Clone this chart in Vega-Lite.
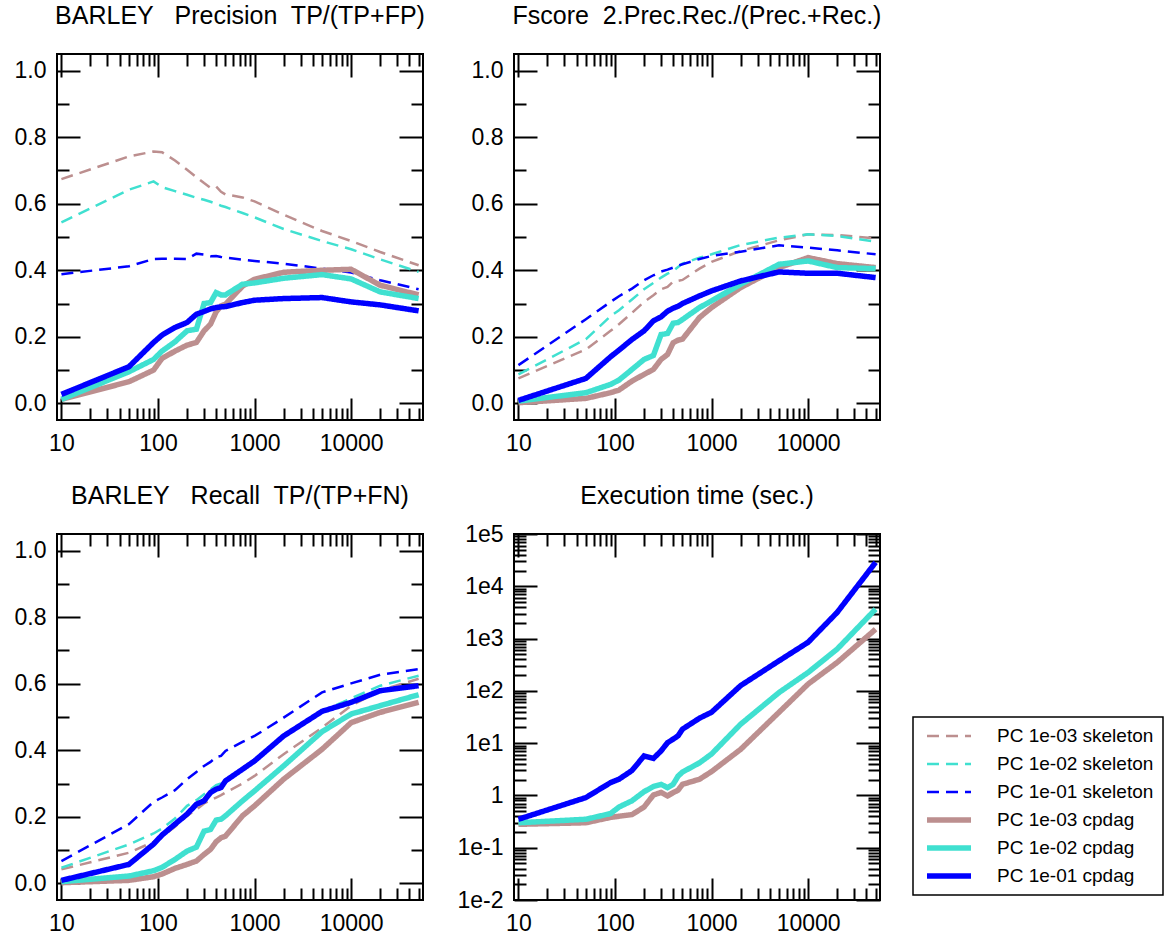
{
  "$schema": "https://vega.github.io/schema/vega-lite/v6.json",
  "background": "white",
  "padding": {"left": 13, "top": 3, "right": 0, "bottom": 0},
  "datasets": {
    "prec": [
      {"n": 10, "PC 1e-03 skeleton": 0.674, "PC 1e-02 skeleton": 0.544, "PC 1e-01 skeleton": 0.388, "PC 1e-03 cpdag": 0.012, "PC 1e-02 cpdag": 0.012, "PC 1e-01 cpdag": 0.027},
      {"n": 50, "PC 1e-03 skeleton": 0.742, "PC 1e-02 skeleton": 0.642, "PC 1e-01 skeleton": 0.412, "PC 1e-03 cpdag": 0.065, "PC 1e-02 cpdag": 0.095, "PC 1e-01 cpdag": 0.110},
      {"n": 90, "PC 1e-03 skeleton": 0.757, "PC 1e-02 skeleton": 0.667, "PC 1e-01 skeleton": 0.434, "PC 1e-03 cpdag": 0.100, "PC 1e-02 cpdag": 0.132, "PC 1e-01 cpdag": 0.183},
      {"n": 110, "PC 1e-03 skeleton": 0.755, "PC 1e-02 skeleton": 0.650, "PC 1e-01 skeleton": 0.435, "PC 1e-03 cpdag": 0.135, "PC 1e-02 cpdag": 0.157, "PC 1e-01 cpdag": 0.205},
      {"n": 150, "PC 1e-03 skeleton": 0.730, "PC 1e-02 skeleton": 0.638, "PC 1e-01 skeleton": 0.435, "PC 1e-03 cpdag": 0.157, "PC 1e-02 cpdag": 0.185, "PC 1e-01 cpdag": 0.228},
      {"n": 200, "PC 1e-03 skeleton": 0.702, "PC 1e-02 skeleton": 0.627, "PC 1e-01 skeleton": 0.434, "PC 1e-03 cpdag": 0.175, "PC 1e-02 cpdag": 0.218, "PC 1e-01 cpdag": 0.243},
      {"n": 250, "PC 1e-03 skeleton": 0.680, "PC 1e-02 skeleton": 0.618, "PC 1e-01 skeleton": 0.450, "PC 1e-03 cpdag": 0.183, "PC 1e-02 cpdag": 0.223, "PC 1e-01 cpdag": 0.268},
      {"n": 300, "PC 1e-03 skeleton": 0.662, "PC 1e-02 skeleton": 0.612, "PC 1e-01 skeleton": 0.447, "PC 1e-03 cpdag": 0.218, "PC 1e-02 cpdag": 0.300, "PC 1e-01 cpdag": 0.276},
      {"n": 350, "PC 1e-03 skeleton": 0.648, "PC 1e-02 skeleton": 0.606, "PC 1e-01 skeleton": 0.442, "PC 1e-03 cpdag": 0.238, "PC 1e-02 cpdag": 0.303, "PC 1e-01 cpdag": 0.284},
      {"n": 400, "PC 1e-03 skeleton": 0.652, "PC 1e-02 skeleton": 0.600, "PC 1e-01 skeleton": 0.443, "PC 1e-03 cpdag": 0.275, "PC 1e-02 cpdag": 0.333, "PC 1e-01 cpdag": 0.288},
      {"n": 450, "PC 1e-03 skeleton": 0.636, "PC 1e-02 skeleton": 0.594, "PC 1e-01 skeleton": 0.440, "PC 1e-03 cpdag": 0.293, "PC 1e-02 cpdag": 0.326, "PC 1e-01 cpdag": 0.290},
      {"n": 500, "PC 1e-03 skeleton": 0.628, "PC 1e-02 skeleton": 0.590, "PC 1e-01 skeleton": 0.438, "PC 1e-03 cpdag": 0.298, "PC 1e-02 cpdag": 0.326, "PC 1e-01 cpdag": 0.291},
      {"n": 750, "PC 1e-03 skeleton": 0.619, "PC 1e-02 skeleton": 0.572, "PC 1e-01 skeleton": 0.432, "PC 1e-03 cpdag": 0.352, "PC 1e-02 cpdag": 0.358, "PC 1e-01 cpdag": 0.303},
      {"n": 1000, "PC 1e-03 skeleton": 0.607, "PC 1e-02 skeleton": 0.559, "PC 1e-01 skeleton": 0.428, "PC 1e-03 cpdag": 0.373, "PC 1e-02 cpdag": 0.362, "PC 1e-01 cpdag": 0.310},
      {"n": 2000, "PC 1e-03 skeleton": 0.567, "PC 1e-02 skeleton": 0.524, "PC 1e-01 skeleton": 0.420, "PC 1e-03 cpdag": 0.394, "PC 1e-02 cpdag": 0.376, "PC 1e-01 cpdag": 0.315},
      {"n": 5000, "PC 1e-03 skeleton": 0.518, "PC 1e-02 skeleton": 0.488, "PC 1e-01 skeleton": 0.405, "PC 1e-03 cpdag": 0.400, "PC 1e-02 cpdag": 0.387, "PC 1e-01 cpdag": 0.318},
      {"n": 10000, "PC 1e-03 skeleton": 0.488, "PC 1e-02 skeleton": 0.463, "PC 1e-01 skeleton": 0.393, "PC 1e-03 cpdag": 0.403, "PC 1e-02 cpdag": 0.374, "PC 1e-01 cpdag": 0.305},
      {"n": 20000, "PC 1e-03 skeleton": 0.455, "PC 1e-02 skeleton": 0.433, "PC 1e-01 skeleton": 0.370, "PC 1e-03 cpdag": 0.355, "PC 1e-02 cpdag": 0.335, "PC 1e-01 cpdag": 0.296},
      {"n": 50000, "PC 1e-03 skeleton": 0.415, "PC 1e-02 skeleton": 0.395, "PC 1e-01 skeleton": 0.343, "PC 1e-03 cpdag": 0.326, "PC 1e-02 cpdag": 0.315, "PC 1e-01 cpdag": 0.278}
    ],
    "fscore": [
      {"n": 10, "PC 1e-03 skeleton": 0.075, "PC 1e-02 skeleton": 0.087, "PC 1e-01 skeleton": 0.115, "PC 1e-03 cpdag": 0.002, "PC 1e-02 cpdag": 0.007, "PC 1e-01 cpdag": 0.009},
      {"n": 50, "PC 1e-03 skeleton": 0.162, "PC 1e-02 skeleton": 0.193, "PC 1e-01 skeleton": 0.253, "PC 1e-03 cpdag": 0.015, "PC 1e-02 cpdag": 0.032, "PC 1e-01 cpdag": 0.075},
      {"n": 90, "PC 1e-03 skeleton": 0.218, "PC 1e-02 skeleton": 0.262, "PC 1e-01 skeleton": 0.305, "PC 1e-03 cpdag": 0.032, "PC 1e-02 cpdag": 0.057, "PC 1e-01 cpdag": 0.140},
      {"n": 110, "PC 1e-03 skeleton": 0.238, "PC 1e-02 skeleton": 0.280, "PC 1e-01 skeleton": 0.322, "PC 1e-03 cpdag": 0.040, "PC 1e-02 cpdag": 0.070, "PC 1e-01 cpdag": 0.160},
      {"n": 150, "PC 1e-03 skeleton": 0.272, "PC 1e-02 skeleton": 0.312, "PC 1e-01 skeleton": 0.345, "PC 1e-03 cpdag": 0.067, "PC 1e-02 cpdag": 0.102, "PC 1e-01 cpdag": 0.192},
      {"n": 200, "PC 1e-03 skeleton": 0.305, "PC 1e-02 skeleton": 0.343, "PC 1e-01 skeleton": 0.370, "PC 1e-03 cpdag": 0.087, "PC 1e-02 cpdag": 0.132, "PC 1e-01 cpdag": 0.218},
      {"n": 250, "PC 1e-03 skeleton": 0.325, "PC 1e-02 skeleton": 0.362, "PC 1e-01 skeleton": 0.385, "PC 1e-03 cpdag": 0.102, "PC 1e-02 cpdag": 0.144, "PC 1e-01 cpdag": 0.248},
      {"n": 300, "PC 1e-03 skeleton": 0.343, "PC 1e-02 skeleton": 0.378, "PC 1e-01 skeleton": 0.396, "PC 1e-03 cpdag": 0.132, "PC 1e-02 cpdag": 0.207, "PC 1e-01 cpdag": 0.260},
      {"n": 350, "PC 1e-03 skeleton": 0.350, "PC 1e-02 skeleton": 0.390, "PC 1e-01 skeleton": 0.402, "PC 1e-03 cpdag": 0.147, "PC 1e-02 cpdag": 0.210, "PC 1e-01 cpdag": 0.277},
      {"n": 400, "PC 1e-03 skeleton": 0.366, "PC 1e-02 skeleton": 0.398, "PC 1e-01 skeleton": 0.408, "PC 1e-03 cpdag": 0.182, "PC 1e-02 cpdag": 0.241, "PC 1e-01 cpdag": 0.286},
      {"n": 450, "PC 1e-03 skeleton": 0.368, "PC 1e-02 skeleton": 0.410, "PC 1e-01 skeleton": 0.414, "PC 1e-03 cpdag": 0.190, "PC 1e-02 cpdag": 0.243, "PC 1e-01 cpdag": 0.292},
      {"n": 500, "PC 1e-03 skeleton": 0.371, "PC 1e-02 skeleton": 0.420, "PC 1e-01 skeleton": 0.418, "PC 1e-03 cpdag": 0.193, "PC 1e-02 cpdag": 0.252, "PC 1e-01 cpdag": 0.300},
      {"n": 750, "PC 1e-03 skeleton": 0.405, "PC 1e-02 skeleton": 0.438, "PC 1e-01 skeleton": 0.434, "PC 1e-03 cpdag": 0.258, "PC 1e-02 cpdag": 0.288, "PC 1e-01 cpdag": 0.323},
      {"n": 1000, "PC 1e-03 skeleton": 0.425, "PC 1e-02 skeleton": 0.448, "PC 1e-01 skeleton": 0.443, "PC 1e-03 cpdag": 0.288, "PC 1e-02 cpdag": 0.308, "PC 1e-01 cpdag": 0.338},
      {"n": 2000, "PC 1e-03 skeleton": 0.458, "PC 1e-02 skeleton": 0.476, "PC 1e-01 skeleton": 0.456, "PC 1e-03 cpdag": 0.348, "PC 1e-02 cpdag": 0.358, "PC 1e-01 cpdag": 0.368},
      {"n": 5000, "PC 1e-03 skeleton": 0.490, "PC 1e-02 skeleton": 0.498, "PC 1e-01 skeleton": 0.475, "PC 1e-03 cpdag": 0.408, "PC 1e-02 cpdag": 0.418, "PC 1e-01 cpdag": 0.395},
      {"n": 10000, "PC 1e-03 skeleton": 0.508, "PC 1e-02 skeleton": 0.508, "PC 1e-01 skeleton": 0.468, "PC 1e-03 cpdag": 0.438, "PC 1e-02 cpdag": 0.428, "PC 1e-01 cpdag": 0.391},
      {"n": 20000, "PC 1e-03 skeleton": 0.506, "PC 1e-02 skeleton": 0.503, "PC 1e-01 skeleton": 0.460, "PC 1e-03 cpdag": 0.420, "PC 1e-02 cpdag": 0.408, "PC 1e-01 cpdag": 0.391},
      {"n": 50000, "PC 1e-03 skeleton": 0.496, "PC 1e-02 skeleton": 0.486, "PC 1e-01 skeleton": 0.448, "PC 1e-03 cpdag": 0.408, "PC 1e-02 cpdag": 0.405, "PC 1e-01 cpdag": 0.378}
    ],
    "recall": [
      {"n": 10, "PC 1e-03 skeleton": 0.042, "PC 1e-02 skeleton": 0.047, "PC 1e-01 skeleton": 0.067, "PC 1e-03 cpdag": 0.002, "PC 1e-02 cpdag": 0.005, "PC 1e-01 cpdag": 0.009},
      {"n": 50, "PC 1e-03 skeleton": 0.092, "PC 1e-02 skeleton": 0.117, "PC 1e-01 skeleton": 0.178, "PC 1e-03 cpdag": 0.009, "PC 1e-02 cpdag": 0.022, "PC 1e-01 cpdag": 0.057},
      {"n": 90, "PC 1e-03 skeleton": 0.125, "PC 1e-02 skeleton": 0.150, "PC 1e-01 skeleton": 0.245, "PC 1e-03 cpdag": 0.020, "PC 1e-02 cpdag": 0.038, "PC 1e-01 cpdag": 0.118},
      {"n": 110, "PC 1e-03 skeleton": 0.140, "PC 1e-02 skeleton": 0.165, "PC 1e-01 skeleton": 0.258, "PC 1e-03 cpdag": 0.028, "PC 1e-02 cpdag": 0.048, "PC 1e-01 cpdag": 0.145},
      {"n": 150, "PC 1e-03 skeleton": 0.170, "PC 1e-02 skeleton": 0.195, "PC 1e-01 skeleton": 0.280, "PC 1e-03 cpdag": 0.045, "PC 1e-02 cpdag": 0.072, "PC 1e-01 cpdag": 0.178},
      {"n": 200, "PC 1e-03 skeleton": 0.203, "PC 1e-02 skeleton": 0.233, "PC 1e-01 skeleton": 0.313, "PC 1e-03 cpdag": 0.057, "PC 1e-02 cpdag": 0.097, "PC 1e-01 cpdag": 0.208},
      {"n": 250, "PC 1e-03 skeleton": 0.222, "PC 1e-02 skeleton": 0.250, "PC 1e-01 skeleton": 0.335, "PC 1e-03 cpdag": 0.067, "PC 1e-02 cpdag": 0.109, "PC 1e-01 cpdag": 0.238},
      {"n": 300, "PC 1e-03 skeleton": 0.240, "PC 1e-02 skeleton": 0.268, "PC 1e-01 skeleton": 0.353, "PC 1e-03 cpdag": 0.087, "PC 1e-02 cpdag": 0.157, "PC 1e-01 cpdag": 0.248},
      {"n": 350, "PC 1e-03 skeleton": 0.250, "PC 1e-02 skeleton": 0.282, "PC 1e-01 skeleton": 0.365, "PC 1e-03 cpdag": 0.102, "PC 1e-02 cpdag": 0.162, "PC 1e-01 cpdag": 0.273},
      {"n": 400, "PC 1e-03 skeleton": 0.258, "PC 1e-02 skeleton": 0.295, "PC 1e-01 skeleton": 0.380, "PC 1e-03 cpdag": 0.125, "PC 1e-02 cpdag": 0.190, "PC 1e-01 cpdag": 0.283},
      {"n": 450, "PC 1e-03 skeleton": 0.265, "PC 1e-02 skeleton": 0.300, "PC 1e-01 skeleton": 0.383, "PC 1e-03 cpdag": 0.137, "PC 1e-02 cpdag": 0.193, "PC 1e-01 cpdag": 0.288},
      {"n": 500, "PC 1e-03 skeleton": 0.273, "PC 1e-02 skeleton": 0.308, "PC 1e-01 skeleton": 0.398, "PC 1e-03 cpdag": 0.142, "PC 1e-02 cpdag": 0.203, "PC 1e-01 cpdag": 0.308},
      {"n": 750, "PC 1e-03 skeleton": 0.300, "PC 1e-02 skeleton": 0.343, "PC 1e-01 skeleton": 0.425, "PC 1e-03 cpdag": 0.203, "PC 1e-02 cpdag": 0.248, "PC 1e-01 cpdag": 0.343},
      {"n": 1000, "PC 1e-03 skeleton": 0.323, "PC 1e-02 skeleton": 0.368, "PC 1e-01 skeleton": 0.443, "PC 1e-03 cpdag": 0.233, "PC 1e-02 cpdag": 0.278, "PC 1e-01 cpdag": 0.368},
      {"n": 2000, "PC 1e-03 skeleton": 0.388, "PC 1e-02 skeleton": 0.443, "PC 1e-01 skeleton": 0.498, "PC 1e-03 cpdag": 0.313, "PC 1e-02 cpdag": 0.353, "PC 1e-01 cpdag": 0.443},
      {"n": 5000, "PC 1e-03 skeleton": 0.468, "PC 1e-02 skeleton": 0.517, "PC 1e-01 skeleton": 0.574, "PC 1e-03 cpdag": 0.403, "PC 1e-02 cpdag": 0.456, "PC 1e-01 cpdag": 0.517},
      {"n": 10000, "PC 1e-03 skeleton": 0.534, "PC 1e-02 skeleton": 0.556, "PC 1e-01 skeleton": 0.601, "PC 1e-03 cpdag": 0.483, "PC 1e-02 cpdag": 0.509, "PC 1e-01 cpdag": 0.544},
      {"n": 20000, "PC 1e-03 skeleton": 0.580, "PC 1e-02 skeleton": 0.594, "PC 1e-01 skeleton": 0.627, "PC 1e-03 cpdag": 0.514, "PC 1e-02 cpdag": 0.534, "PC 1e-01 cpdag": 0.579},
      {"n": 50000, "PC 1e-03 skeleton": 0.615, "PC 1e-02 skeleton": 0.624, "PC 1e-01 skeleton": 0.644, "PC 1e-03 cpdag": 0.544, "PC 1e-02 cpdag": 0.567, "PC 1e-01 cpdag": 0.594}
    ],
    "time": [
      {"n": 10, "PC 1e-03 cpdag": 0.28, "PC 1e-02 cpdag": 0.30, "PC 1e-01 cpdag": 0.35},
      {"n": 50, "PC 1e-03 cpdag": 0.30, "PC 1e-02 cpdag": 0.35, "PC 1e-01 cpdag": 0.91},
      {"n": 90, "PC 1e-03 cpdag": 0.38, "PC 1e-02 cpdag": 0.45, "PC 1e-01 cpdag": 1.76},
      {"n": 110, "PC 1e-03 cpdag": 0.40, "PC 1e-02 cpdag": 0.60, "PC 1e-01 cpdag": 2.04},
      {"n": 150, "PC 1e-03 cpdag": 0.43, "PC 1e-02 cpdag": 0.79, "PC 1e-01 cpdag": 3.0},
      {"n": 200, "PC 1e-03 cpdag": 0.60, "PC 1e-02 cpdag": 1.18, "PC 1e-01 cpdag": 5.7},
      {"n": 250, "PC 1e-03 cpdag": 1.02, "PC 1e-02 cpdag": 1.48, "PC 1e-01 cpdag": 5.1},
      {"n": 300, "PC 1e-03 cpdag": 1.14, "PC 1e-02 cpdag": 1.63, "PC 1e-01 cpdag": 7.1},
      {"n": 350, "PC 1e-03 cpdag": 0.98, "PC 1e-02 cpdag": 1.41, "PC 1e-01 cpdag": 10.2},
      {"n": 400, "PC 1e-03 cpdag": 1.13, "PC 1e-02 cpdag": 1.63, "PC 1e-01 cpdag": 11.9},
      {"n": 450, "PC 1e-03 cpdag": 1.26, "PC 1e-02 cpdag": 2.34, "PC 1e-01 cpdag": 13.8},
      {"n": 500, "PC 1e-03 cpdag": 1.63, "PC 1e-02 cpdag": 2.8, "PC 1e-01 cpdag": 18.5},
      {"n": 750, "PC 1e-03 cpdag": 2.04, "PC 1e-02 cpdag": 4.2, "PC 1e-01 cpdag": 30},
      {"n": 1000, "PC 1e-03 cpdag": 2.86, "PC 1e-02 cpdag": 6.2, "PC 1e-01 cpdag": 39},
      {"n": 2000, "PC 1e-03 cpdag": 7.6, "PC 1e-02 cpdag": 23, "PC 1e-01 cpdag": 126},
      {"n": 5000, "PC 1e-03 cpdag": 39, "PC 1e-02 cpdag": 93, "PC 1e-01 cpdag": 376},
      {"n": 10000, "PC 1e-03 cpdag": 135, "PC 1e-02 cpdag": 225, "PC 1e-01 cpdag": 850},
      {"n": 20000, "PC 1e-03 cpdag": 350, "PC 1e-02 cpdag": 630, "PC 1e-01 cpdag": 3170},
      {"n": 50000, "PC 1e-03 cpdag": 1510, "PC 1e-02 cpdag": 3650, "PC 1e-01 cpdag": 28700}
    ]
  },
  "columns": 2,
  "spacing": {"row": 114, "column": 91},
  "bounds": "flush",
  "concat": [
    {
      "title": {"text": "BARLEY\u00a0\u00a0 Precision\u00a0 TP/(TP+FP)"},
      "width": 366, "height": 366,
      "data": {"name": "prec"},
      "transform": [{"fold": ["PC 1e-03 skeleton", "PC 1e-02 skeleton", "PC 1e-01 skeleton", "PC 1e-03 cpdag", "PC 1e-02 cpdag", "PC 1e-01 cpdag"], "as": ["series", "value"]}],
      "layer": [
        {
          "mark": {"type": "line"},
          "encoding": {
            "x": {"field": "n", "type": "quantitative", "scale": {"type": "log", "domain": [9, 55500], "nice": false},
              "axis": {"orient": "bottom", "title": null, "values": [10,20,30,40,50,60,70,80,90,100,200,300,400,500,600,700,800,900,1000,2000,3000,4000,5000,6000,7000,8000,9000,10000,20000,30000,40000,50000],
                "labelExpr": "(datum.value == 10 || datum.value == 100 || datum.value == 1000 || datum.value == 10000) ? format(datum.value, 'd') : ''",
                "tickSize": {"condition": {"test": "datum.value == 10 || datum.value == 100 || datum.value == 1000 || datum.value == 10000", "value": -22}, "value": -12},
                "labelPadding": 34}},
            "y": {"field": "value", "type": "quantitative", "scale": {"type": "linear", "domain": [-0.05, 1.05], "nice": false, "zero": false},
              "axis": {"orient": "left", "title": null, "values": [0,0.1,0.2,0.3,0.4,0.5,0.6,0.7,0.8,0.9,1],
                "labelExpr": "(datum.value == 0 || datum.value == 0.2 || datum.value == 0.4 || datum.value == 0.6 || datum.value == 0.8 || datum.value == 1) ? format(datum.value, '.1f') : ''",
                "tickSize": {"condition": {"test": "datum.value == 0 || datum.value == 0.2 || datum.value == 0.4 || datum.value == 0.6 || datum.value == 0.8 || datum.value == 1", "value": -23}, "value": -12},
                "labelPadding": 34}},
            "color": {"field": "series", "type": "nominal", "scale": {"domain": ["PC 1e-03 skeleton", "PC 1e-02 skeleton", "PC 1e-01 skeleton", "PC 1e-03 cpdag", "PC 1e-02 cpdag", "PC 1e-01 cpdag"], "range": ["#bc8f8f", "#40e0d0", "#0000ff", "#bc8f8f", "#40e0d0", "#0000ff"]}},
            "strokeDash": {"field": "series", "type": "nominal", "scale": {"domain": ["PC 1e-03 skeleton", "PC 1e-02 skeleton", "PC 1e-01 skeleton", "PC 1e-03 cpdag", "PC 1e-02 cpdag", "PC 1e-01 cpdag"], "range": [[12,7],[12,7],[12,7],[1,0],[1,0],[1,0]]}},
            "strokeWidth": {"field": "series", "type": "nominal", "scale": {"type": "ordinal", "domain": ["PC 1e-03 skeleton", "PC 1e-02 skeleton", "PC 1e-01 skeleton", "PC 1e-03 cpdag", "PC 1e-02 cpdag", "PC 1e-01 cpdag"], "range": [2.5,2.5,2.5,5.5,5.5,5.5]}}
          }
        },
        {
          "mark": {"type": "line", "opacity": 0},
          "encoding": {
            "x": {"field": "n", "type": "quantitative", "scale": {"type": "log", "domain": [9, 55500], "nice": false},
              "axis": {"orient": "top", "title": null, "labels": false, "values": [10,20,30,40,50,60,70,80,90,100,200,300,400,500,600,700,800,900,1000,2000,3000,4000,5000,6000,7000,8000,9000,10000,20000,30000,40000,50000],
                "tickSize": {"condition": {"test": "datum.value == 10 || datum.value == 100 || datum.value == 1000 || datum.value == 10000", "value": -23}, "value": -12}}},
            "y": {"field": "value", "type": "quantitative", "scale": {"type": "linear", "domain": [-0.05, 1.05], "nice": false, "zero": false},
              "axis": {"orient": "right", "title": null, "labels": false, "values": [0,0.1,0.2,0.3,0.4,0.5,0.6,0.7,0.8,0.9,1],
                "tickSize": {"condition": {"test": "datum.value == 0 || datum.value == 0.2 || datum.value == 0.4 || datum.value == 0.6 || datum.value == 0.8 || datum.value == 1", "value": -24}, "value": -12}}},
            "detail": {"field": "series", "type": "nominal"}
          }
        }
      ],
      "resolve": {"axis": {"x": "independent", "y": "independent"}}
    },
    {
      "title": {"text": "Fscore\u00a0 2.Prec.Rec./(Prec.+Rec.)"},
      "width": 366, "height": 366,
      "data": {"name": "fscore"},
      "transform": [{"fold": ["PC 1e-03 skeleton", "PC 1e-02 skeleton", "PC 1e-01 skeleton", "PC 1e-03 cpdag", "PC 1e-02 cpdag", "PC 1e-01 cpdag"], "as": ["series", "value"]}],
      "layer": [
        {
          "mark": {"type": "line"},
          "encoding": {
            "x": {"field": "n", "type": "quantitative", "scale": {"type": "log", "domain": [9, 55500], "nice": false},
              "axis": {"orient": "bottom", "title": null, "values": [10,20,30,40,50,60,70,80,90,100,200,300,400,500,600,700,800,900,1000,2000,3000,4000,5000,6000,7000,8000,9000,10000,20000,30000,40000,50000],
                "labelExpr": "(datum.value == 10 || datum.value == 100 || datum.value == 1000 || datum.value == 10000) ? format(datum.value, 'd') : ''",
                "tickSize": {"condition": {"test": "datum.value == 10 || datum.value == 100 || datum.value == 1000 || datum.value == 10000", "value": -22}, "value": -12},
                "labelPadding": 34}},
            "y": {"field": "value", "type": "quantitative", "scale": {"type": "linear", "domain": [-0.05, 1.05], "nice": false, "zero": false},
              "axis": {"orient": "left", "title": null, "values": [0,0.1,0.2,0.3,0.4,0.5,0.6,0.7,0.8,0.9,1],
                "labelExpr": "(datum.value == 0 || datum.value == 0.2 || datum.value == 0.4 || datum.value == 0.6 || datum.value == 0.8 || datum.value == 1) ? format(datum.value, '.1f') : ''",
                "tickSize": {"condition": {"test": "datum.value == 0 || datum.value == 0.2 || datum.value == 0.4 || datum.value == 0.6 || datum.value == 0.8 || datum.value == 1", "value": -23}, "value": -12},
                "labelPadding": 34}},
            "color": {"field": "series", "type": "nominal", "scale": {"domain": ["PC 1e-03 skeleton", "PC 1e-02 skeleton", "PC 1e-01 skeleton", "PC 1e-03 cpdag", "PC 1e-02 cpdag", "PC 1e-01 cpdag"], "range": ["#bc8f8f", "#40e0d0", "#0000ff", "#bc8f8f", "#40e0d0", "#0000ff"]}},
            "strokeDash": {"field": "series", "type": "nominal", "scale": {"domain": ["PC 1e-03 skeleton", "PC 1e-02 skeleton", "PC 1e-01 skeleton", "PC 1e-03 cpdag", "PC 1e-02 cpdag", "PC 1e-01 cpdag"], "range": [[12,7],[12,7],[12,7],[1,0],[1,0],[1,0]]}},
            "strokeWidth": {"field": "series", "type": "nominal", "scale": {"type": "ordinal", "domain": ["PC 1e-03 skeleton", "PC 1e-02 skeleton", "PC 1e-01 skeleton", "PC 1e-03 cpdag", "PC 1e-02 cpdag", "PC 1e-01 cpdag"], "range": [2.5,2.5,2.5,5.5,5.5,5.5]}}
          }
        },
        {
          "mark": {"type": "line", "opacity": 0},
          "encoding": {
            "x": {"field": "n", "type": "quantitative", "scale": {"type": "log", "domain": [9, 55500], "nice": false},
              "axis": {"orient": "top", "title": null, "labels": false, "values": [10,20,30,40,50,60,70,80,90,100,200,300,400,500,600,700,800,900,1000,2000,3000,4000,5000,6000,7000,8000,9000,10000,20000,30000,40000,50000],
                "tickSize": {"condition": {"test": "datum.value == 10 || datum.value == 100 || datum.value == 1000 || datum.value == 10000", "value": -23}, "value": -12}}},
            "y": {"field": "value", "type": "quantitative", "scale": {"type": "linear", "domain": [-0.05, 1.05], "nice": false, "zero": false},
              "axis": {"orient": "right", "title": null, "labels": false, "values": [0,0.1,0.2,0.3,0.4,0.5,0.6,0.7,0.8,0.9,1],
                "tickSize": {"condition": {"test": "datum.value == 0 || datum.value == 0.2 || datum.value == 0.4 || datum.value == 0.6 || datum.value == 0.8 || datum.value == 1", "value": -24}, "value": -12}}},
            "detail": {"field": "series", "type": "nominal"}
          }
        }
      ],
      "resolve": {"axis": {"x": "independent", "y": "independent"}}
    },
    {
      "title": {"text": "BARLEY\u00a0\u00a0 Recall\u00a0 TP/(TP+FN)"},
      "width": 366, "height": 366,
      "data": {"name": "recall"},
      "transform": [{"fold": ["PC 1e-03 skeleton", "PC 1e-02 skeleton", "PC 1e-01 skeleton", "PC 1e-03 cpdag", "PC 1e-02 cpdag", "PC 1e-01 cpdag"], "as": ["series", "value"]}],
      "layer": [
        {
          "mark": {"type": "line"},
          "encoding": {
            "x": {"field": "n", "type": "quantitative", "scale": {"type": "log", "domain": [9, 55500], "nice": false},
              "axis": {"orient": "bottom", "title": null, "values": [10,20,30,40,50,60,70,80,90,100,200,300,400,500,600,700,800,900,1000,2000,3000,4000,5000,6000,7000,8000,9000,10000,20000,30000,40000,50000],
                "labelExpr": "(datum.value == 10 || datum.value == 100 || datum.value == 1000 || datum.value == 10000) ? format(datum.value, 'd') : ''",
                "tickSize": {"condition": {"test": "datum.value == 10 || datum.value == 100 || datum.value == 1000 || datum.value == 10000", "value": -22}, "value": -12},
                "labelPadding": 34}},
            "y": {"field": "value", "type": "quantitative", "scale": {"type": "linear", "domain": [-0.05, 1.05], "nice": false, "zero": false},
              "axis": {"orient": "left", "title": null, "values": [0,0.1,0.2,0.3,0.4,0.5,0.6,0.7,0.8,0.9,1],
                "labelExpr": "(datum.value == 0 || datum.value == 0.2 || datum.value == 0.4 || datum.value == 0.6 || datum.value == 0.8 || datum.value == 1) ? format(datum.value, '.1f') : ''",
                "tickSize": {"condition": {"test": "datum.value == 0 || datum.value == 0.2 || datum.value == 0.4 || datum.value == 0.6 || datum.value == 0.8 || datum.value == 1", "value": -23}, "value": -12},
                "labelPadding": 34}},
            "color": {"field": "series", "type": "nominal", "scale": {"domain": ["PC 1e-03 skeleton", "PC 1e-02 skeleton", "PC 1e-01 skeleton", "PC 1e-03 cpdag", "PC 1e-02 cpdag", "PC 1e-01 cpdag"], "range": ["#bc8f8f", "#40e0d0", "#0000ff", "#bc8f8f", "#40e0d0", "#0000ff"]}},
            "strokeDash": {"field": "series", "type": "nominal", "scale": {"domain": ["PC 1e-03 skeleton", "PC 1e-02 skeleton", "PC 1e-01 skeleton", "PC 1e-03 cpdag", "PC 1e-02 cpdag", "PC 1e-01 cpdag"], "range": [[12,7],[12,7],[12,7],[1,0],[1,0],[1,0]]}},
            "strokeWidth": {"field": "series", "type": "nominal", "scale": {"type": "ordinal", "domain": ["PC 1e-03 skeleton", "PC 1e-02 skeleton", "PC 1e-01 skeleton", "PC 1e-03 cpdag", "PC 1e-02 cpdag", "PC 1e-01 cpdag"], "range": [2.5,2.5,2.5,5.5,5.5,5.5]}}
          }
        },
        {
          "mark": {"type": "line", "opacity": 0},
          "encoding": {
            "x": {"field": "n", "type": "quantitative", "scale": {"type": "log", "domain": [9, 55500], "nice": false},
              "axis": {"orient": "top", "title": null, "labels": false, "values": [10,20,30,40,50,60,70,80,90,100,200,300,400,500,600,700,800,900,1000,2000,3000,4000,5000,6000,7000,8000,9000,10000,20000,30000,40000,50000],
                "tickSize": {"condition": {"test": "datum.value == 10 || datum.value == 100 || datum.value == 1000 || datum.value == 10000", "value": -23}, "value": -12}}},
            "y": {"field": "value", "type": "quantitative", "scale": {"type": "linear", "domain": [-0.05, 1.05], "nice": false, "zero": false},
              "axis": {"orient": "right", "title": null, "labels": false, "values": [0,0.1,0.2,0.3,0.4,0.5,0.6,0.7,0.8,0.9,1],
                "tickSize": {"condition": {"test": "datum.value == 0 || datum.value == 0.2 || datum.value == 0.4 || datum.value == 0.6 || datum.value == 0.8 || datum.value == 1", "value": -24}, "value": -12}}},
            "detail": {"field": "series", "type": "nominal"}
          }
        }
      ],
      "resolve": {"axis": {"x": "independent", "y": "independent"}}
    },
    {
      "title": {"text": "Execution time (sec.)", "offset": 14},
      "width": 366, "height": 366,
      "data": {"name": "time"},
      "transform": [{"fold": ["PC 1e-03 cpdag", "PC 1e-02 cpdag", "PC 1e-01 cpdag"], "as": ["series", "value"]}],
      "layer": [
        {
          "mark": {"type": "line"},
          "encoding": {
            "x": {"field": "n", "type": "quantitative", "scale": {"type": "log", "domain": [9, 55500], "nice": false},
              "axis": {"orient": "bottom", "title": null, "values": [10,20,30,40,50,60,70,80,90,100,200,300,400,500,600,700,800,900,1000,2000,3000,4000,5000,6000,7000,8000,9000,10000,20000,30000,40000,50000],
                "labelExpr": "(datum.value == 10 || datum.value == 100 || datum.value == 1000 || datum.value == 10000) ? format(datum.value, 'd') : ''",
                "tickSize": {"condition": {"test": "datum.value == 10 || datum.value == 100 || datum.value == 1000 || datum.value == 10000", "value": -22}, "value": -12},
                "labelPadding": 34}},
            "y": {"field": "value", "type": "quantitative", "scale": {"type": "log", "domain": [0.01, 100000], "nice": false},
              "axis": {"orient": "left", "title": null, "values": [0.01,0.02,0.03,0.04,0.05,0.06,0.07,0.08,0.09,0.1,0.2,0.3,0.4,0.5,0.6,0.7,0.8,0.9,1,2,3,4,5,6,7,8,9,10,20,30,40,50,60,70,80,90,100,200,300,400,500,600,700,800,900,1000,2000,3000,4000,5000,6000,7000,8000,9000,10000,20000,30000,40000,50000,60000,70000,80000,90000,100000],
                "labelExpr": "datum.value == 0.01 ? '1e-2' : datum.value == 0.1 ? '1e-1' : datum.value == 1 ? '1' : datum.value == 10 ? '1e1' : datum.value == 100 ? '1e2' : datum.value == 1000 ? '1e3' : datum.value == 10000 ? '1e4' : datum.value == 100000 ? '1e5' : ''",
                "tickSize": {"condition": {"test": "datum.value == 0.01 || datum.value == 0.1 || datum.value == 1 || datum.value == 10 || datum.value == 100 || datum.value == 1000 || datum.value == 10000 || datum.value == 100000", "value": -23}, "value": -12},
                "labelPadding": 34}},
            "color": {"field": "series", "type": "nominal", "scale": {"domain": ["PC 1e-03 skeleton", "PC 1e-02 skeleton", "PC 1e-01 skeleton", "PC 1e-03 cpdag", "PC 1e-02 cpdag", "PC 1e-01 cpdag"], "range": ["#bc8f8f", "#40e0d0", "#0000ff", "#bc8f8f", "#40e0d0", "#0000ff"]}},
            "strokeDash": {"field": "series", "type": "nominal", "scale": {"domain": ["PC 1e-03 skeleton", "PC 1e-02 skeleton", "PC 1e-01 skeleton", "PC 1e-03 cpdag", "PC 1e-02 cpdag", "PC 1e-01 cpdag"], "range": [[12,7],[12,7],[12,7],[1,0],[1,0],[1,0]]}},
            "strokeWidth": {"field": "series", "type": "nominal", "scale": {"type": "ordinal", "domain": ["PC 1e-03 skeleton", "PC 1e-02 skeleton", "PC 1e-01 skeleton", "PC 1e-03 cpdag", "PC 1e-02 cpdag", "PC 1e-01 cpdag"], "range": [2.5,2.5,2.5,5.5,5.5,5.5]}}
          }
        },
        {
          "mark": {"type": "line", "opacity": 0},
          "encoding": {
            "x": {"field": "n", "type": "quantitative", "scale": {"type": "log", "domain": [9, 55500], "nice": false},
              "axis": {"orient": "top", "title": null, "labels": false, "values": [10,20,30,40,50,60,70,80,90,100,200,300,400,500,600,700,800,900,1000,2000,3000,4000,5000,6000,7000,8000,9000,10000,20000,30000,40000,50000],
                "tickSize": {"condition": {"test": "datum.value == 10 || datum.value == 100 || datum.value == 1000 || datum.value == 10000", "value": -23}, "value": -12}}},
            "y": {"field": "value", "type": "quantitative", "scale": {"type": "log", "domain": [0.01, 100000], "nice": false},
              "axis": {"orient": "right", "title": null, "labels": false, "values": [0.01,0.02,0.03,0.04,0.05,0.06,0.07,0.08,0.09,0.1,0.2,0.3,0.4,0.5,0.6,0.7,0.8,0.9,1,2,3,4,5,6,7,8,9,10,20,30,40,50,60,70,80,90,100,200,300,400,500,600,700,800,900,1000,2000,3000,4000,5000,6000,7000,8000,9000,10000,20000,30000,40000,50000,60000,70000,80000,90000,100000],
                "tickSize": {"condition": {"test": "datum.value == 0.01 || datum.value == 0.1 || datum.value == 1 || datum.value == 10 || datum.value == 100 || datum.value == 1000 || datum.value == 10000 || datum.value == 100000", "value": -24}, "value": -12}}},
            "detail": {"field": "series", "type": "nominal"}
          }
        }
      ],
      "resolve": {"axis": {"x": "independent", "y": "independent"}}
    }
  ],
  "config": {
    "font": "Liberation Sans",
    "view": {"stroke": "black", "strokeWidth": 2},
    "axis": {"domain": false, "grid": false, "tickColor": "black", "tickWidth": 2, "labelColor": "black", "labelFont": "Liberation Sans", "labelFontSize": 23, "labelFlush": false, "labelOverlap": false, "labelBound": false},
    "title": {"font": "Liberation Sans", "fontSize": 25, "fontWeight": "normal", "color": "black", "anchor": "middle", "frame": "group", "baseline": "alphabetic", "offset": 24},
    "legend": {"orient": "none", "legendX": 856, "legendY": 663, "title": null, "labelFont": "Liberation Sans", "labelFontSize": 19, "labelColor": "black", "labelLimit": 300, "symbolSize": 1936, "symbolType": "stroke", "clipHeight": 20, "rowPadding": 8, "padding": 9, "symbolOffset": 2, "labelOffset": 23, "strokeColor": "black", "strokeWidth": 1.5, "fillColor": "white"}
  }
}
